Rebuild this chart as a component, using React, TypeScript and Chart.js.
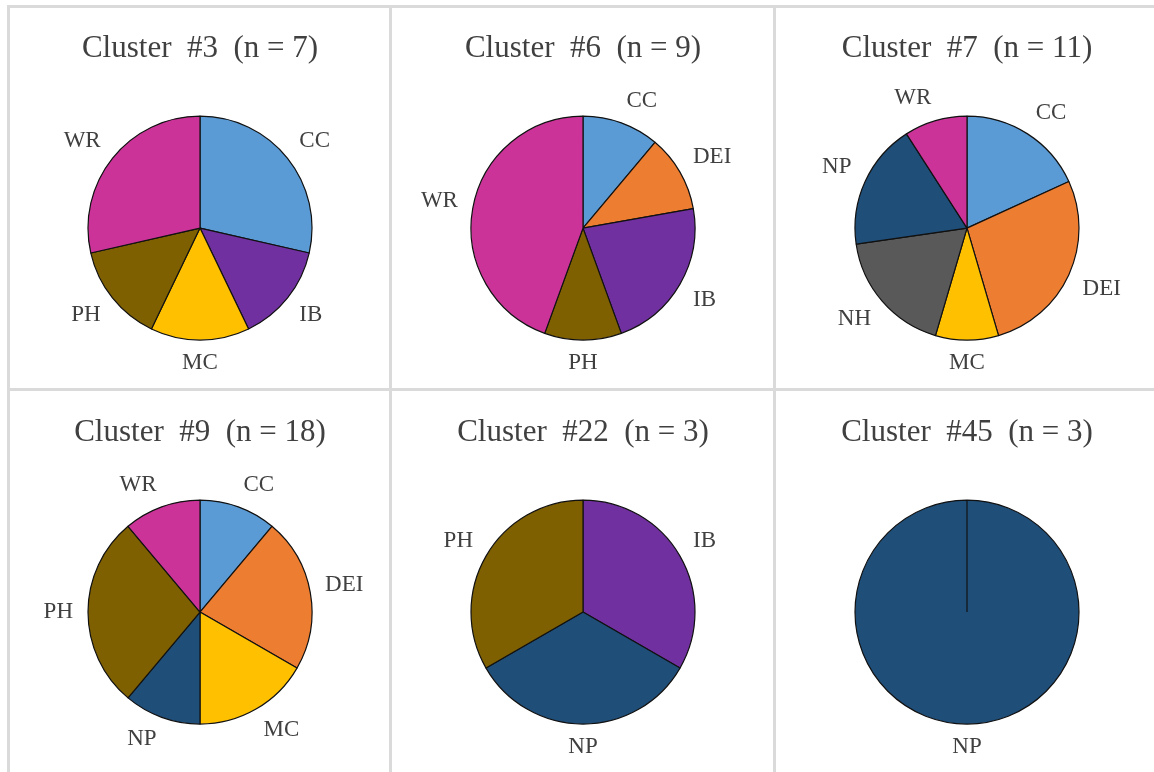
import React, { useEffect, useRef } from "react";
import { Chart, registerables } from "chart.js";

Chart.register(...registerables);

// ---- data: member counts per category for each cluster ----
const cluster3Labels = ["CC", "IB", "MC", "PH", "WR"];
const cluster3Counts = [2, 1, 1, 1, 2];

const cluster6Labels = ["CC", "DEI", "IB", "PH", "WR"];
const cluster6Counts = [1, 1, 2, 1, 4];

const cluster7Labels = ["CC", "DEI", "MC", "NH", "NP", "WR"];
const cluster7Counts = [2, 3, 1, 2, 2, 1];

const cluster9Labels = ["CC", "DEI", "MC", "NP", "PH", "WR"];
const cluster9Counts = [2, 4, 3, 2, 5, 2];

const cluster22Labels = ["IB", "NP", "PH"];
const cluster22Counts = [1, 1, 1];

const cluster45Labels = ["NP"];
const cluster45Counts = [3];

const clusterIds = [3, 6, 7, 9, 22, 45];
const clusterLabels = [cluster3Labels, cluster6Labels, cluster7Labels, cluster9Labels, cluster22Labels, cluster45Labels];
const clusterCounts = [cluster3Counts, cluster6Counts, cluster7Counts, cluster9Counts, cluster22Counts, cluster45Counts];

// ---- styling ----
const categoryColors: Record<string, string> = {
  CC: "#5B9BD5",
  DEI: "#ED7D31",
  IB: "#7030A0",
  MC: "#FFC000",
  NH: "#595959",
  NP: "#1F4E79",
  PH: "#7F6000",
  WR: "#CC3399",
};

const FONT = '"Liberation Serif", "Times New Roman", serif';
const TEXT_COLOR = "#404040";
const LABEL_SIZE = 23;
const LABEL_HALF_H = 8;
const LABEL_GAP = 15;

const CELL_W = 380;
const CELL_H = 381;
const COL_X = [10, 393, 777];
const ROW_Y = [7, 391];

const clamp01 = (v: number) => Math.max(0, Math.min(1, v));

// Category names placed just outside each slice: anchor on a ring past the
// rim at the slice's middle angle, then push the text box away from the pie.
const outerLabels = {
  id: "outerLabels",
  afterDatasetsDraw(chart: any) {
    const ctx = chart.ctx as CanvasRenderingContext2D;
    const meta = chart.getDatasetMeta(0);
    const labels = chart.data.labels as string[];
    ctx.save();
    ctx.font = `${LABEL_SIZE}px ${FONT}`;
    ctx.fillStyle = TEXT_COLOR;
    ctx.textAlign = "center";
    ctx.textBaseline = "middle";
    meta.data.forEach((arc: any, i: number) => {
      const { x, y, startAngle, endAngle, outerRadius } = arc.getProps(
        ["x", "y", "startAngle", "endAngle", "outerRadius"],
        true
      );
      const mid = (startAngle + endAngle) / 2;
      const dx = Math.cos(mid);
      const dy = Math.sin(mid);
      const text = String(labels[i]);
      const w = ctx.measureText(text).width;
      const ring = outerRadius + LABEL_GAP;
      const ox = Math.sign(dx) * (w / 2) * clamp01(Math.abs(dx) * 4);
      const oy = Math.sign(dy) * LABEL_HALF_H * clamp01(Math.abs(dy) * 4);
      ctx.fillText(text, x + dx * ring + ox, y + dy * ring + oy);
    });
    ctx.restore();
  },
};

function ClusterPie({ id, labels, counts }: { id: number; labels: string[]; counts: number[] }) {
  const ref = useRef<HTMLCanvasElement | null>(null);
  useEffect(() => {
    if (!ref.current) return;
    const n = counts.reduce((a, b) => a + b, 0);
    const chart = new Chart(ref.current, {
      type: "pie",
      data: {
        labels,
        datasets: [
          {
            data: counts,
            backgroundColor: labels.map((l) => categoryColors[l]),
            borderColor: "#111111",
            borderWidth: 1.2,
          },
        ],
      },
      options: {
        animation: false,
        responsive: true,
        maintainAspectRatio: false,
        events: [],
        radius: 112,
        layout: { padding: { top: 0, bottom: 39, left: 0, right: 0 } },
        plugins: {
          legend: { display: false },
          tooltip: { enabled: false },
          title: {
            display: true,
            text: `Cluster  #${id}  (n = ${n})`,
            color: TEXT_COLOR,
            font: { family: FONT, size: 31, weight: "normal", lineHeight: 1.2 },
            padding: { top: 23, bottom: 40 },
          },
        },
      } as any,
      plugins: [outerLabels],
    });
    return () => chart.destroy();
  }, [id, labels, counts]);
  return <canvas ref={ref} />;
}

export default function App() {
  const line = "#dadada";
  return (
    <div style={{ position: "absolute", left: 0, top: 0, width: 1154, height: 772, background: "#ffffff", overflow: "hidden" }}>
      {clusterIds.map((id, i) => {
        const col = i % 3;
        const row = Math.floor(i / 3);
        return (
          <div
            key={id}
            style={{ position: "absolute", left: COL_X[col], top: ROW_Y[row], width: CELL_W, height: CELL_H }}
          >
            <ClusterPie id={id} labels={clusterLabels[i]} counts={clusterCounts[i]} />
          </div>
        );
      })}
      {/* table grid lines */}
      <div style={{ position: "absolute", left: 7, top: 5, width: 1147, height: 3, background: line }} />
      <div style={{ position: "absolute", left: 7, top: 388, width: 1147, height: 3, background: line }} />
      <div style={{ position: "absolute", left: 7, top: 5, width: 3, height: 767, background: line }} />
      <div style={{ position: "absolute", left: 389, top: 5, width: 3, height: 767, background: line }} />
      <div style={{ position: "absolute", left: 773, top: 5, width: 3, height: 767, background: line }} />
    </div>
  );
}
